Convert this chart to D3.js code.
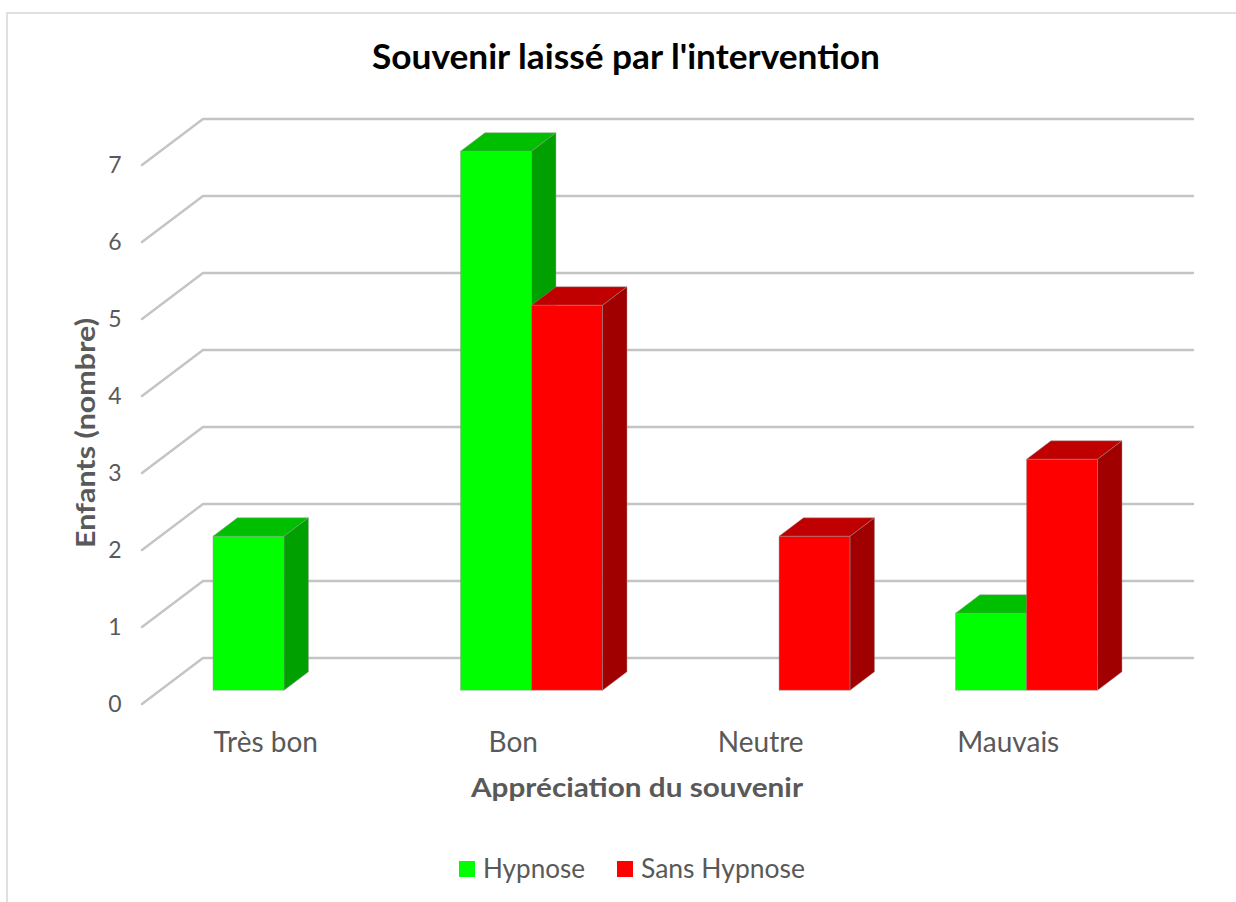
<!DOCTYPE html>
<html>
<head>
<meta charset="utf-8">
<script src="https://cdn.jsdelivr.net/npm/d3@7"></script>
<style>
  html, body { margin: 0; padding: 0; background: #fff; }
  svg { display: block; }
  text { font-family: Lato, "Open Sans", sans-serif; }
</style>
</head>
<body>
<svg id="chart" width="1236" height="902"></svg>
<script>
// ---- Data ----
const categories = ["Très bon", "Bon", "Neutre", "Mauvais"];
const seriesNames = ["Hypnose", "Sans Hypnose"];
const hypnose = [2, 7, 0, 1];
const sansHypnose = [0, 5, 2, 3];
const yTicks = [0, 1, 2, 3, 4, 5, 6, 7];
const titleText = "Souvenir laissé par l'intervention";
const xTitleText = "Appréciation du souvenir";
const yTitleText = "Enfants (nombre)";

const seriesValues = [hypnose, sansHypnose];
const colors = {
  "Hypnose": { front: "#00FF00", top: "#00BF00", side: "#00A000" },
  "Sans Hypnose": { front: "#FF0000", top: "#C00000", side: "#A00000" }
};

const svg = d3.select("#chart");

// chart border
svg.append("rect").attr("x", 7).attr("y", 13).attr("width", 1300).attr("height", 1000)
  .attr("fill", "none").attr("stroke", "#d9d9d9").attr("stroke-width", 1.6);

// ---- 3D projection ----
const DX = 61, DY = 46;                 // full depth offset
const x = d3.scaleBand().domain(categories).range([142, 1132]);
const y = d3.scaleLinear().domain([0, 7]).range([704, 165]);
const groupFrac = 0.574;
const xs = d3.scaleBand().domain(seriesNames).range([0, x.bandwidth() * groupFrac]);
const d0 = 0.3, d1 = 0.7;
const P = (px, v, d) => [px + d * DX, y(v) - d * DY];
const poly = pts => "M" + pts.map(p => p.join(",")).join("L") + "Z";

// gridlines (back wall + left wall)
const grid = svg.append("g");
yTicks.forEach(t => {
  const a = P(x.range()[0], t, 0), b = P(x.range()[0], t, 1), c = P(x.range()[1], t, 1);
  grid.append("path").attr("d", `M${a}L${b}L${c}`)
    .attr("fill", "none").attr("stroke", "#c4c4c4").attr("stroke-width", 2.4)
    .attr("stroke-linejoin", "round").attr("stroke-linecap", "round");
});

// tick labels
svg.append("g").selectAll("text").data(yTicks).join("text")
  .attr("x", 115).attr("y", d => y(d) + 8)
  .attr("text-anchor", "middle").attr("font-size", 23).attr("fill", "#595959")
  .text(d => d);

// bars
const bars = svg.append("g");
categories.forEach((cat, ci) => {
  const gx = x(cat) + x.bandwidth() * (1 - groupFrac) / 2;
  seriesNames.forEach((s, si) => {
    const v = seriesValues[si][ci];
    if (!(v > 0)) return;
    const x0 = gx + xs(s), x1 = x0 + xs.bandwidth();
    const c = colors[s];
    const st = { stroke: "rgba(150,150,150,0.55)", w: 0.8 };
    bars.append("path").attr("d", poly([P(x0, 0, d0), P(x1, 0, d0), P(x1, v, d0), P(x0, v, d0)]))
      .attr("fill", c.front).attr("stroke", st.stroke).attr("stroke-width", st.w);
    bars.append("path").attr("d", poly([P(x0, v, d0), P(x1, v, d0), P(x1, v, d1), P(x0, v, d1)]))
      .attr("fill", c.top).attr("stroke", st.stroke).attr("stroke-width", st.w);
    bars.append("path").attr("d", poly([P(x1, 0, d0), P(x1, v, d0), P(x1, v, d1), P(x1, 0, d1)]))
      .attr("fill", c.side).attr("stroke", st.stroke).attr("stroke-width", st.w);
  });
});

// category labels
svg.append("g").selectAll("text").data(categories).join("text")
  .attr("x", d => x(d) + x.bandwidth() / 2).attr("y", 752)
  .attr("text-anchor", "middle").attr("font-size", 28).attr("fill", "#595959")
  .text(d => d);

// title
svg.append("text").attr("x", 626).attr("y", 69).attr("text-anchor", "middle")
  .attr("font-size", 34).attr("font-weight", 700).attr("fill", "#000")
  .attr("textLength", 508).attr("lengthAdjust", "spacingAndGlyphs")
  .text(titleText);

// x axis title
svg.append("text").attr("x", 637).attr("y", 797).attr("text-anchor", "middle")
  .attr("font-size", 27).attr("font-weight", 700).attr("fill", "#595959")
  .attr("textLength", 332).attr("lengthAdjust", "spacingAndGlyphs")
  .text(xTitleText);

// y axis title
svg.append("text").attr("transform", "translate(95,433) rotate(-90)")
  .attr("text-anchor", "middle")
  .attr("font-size", 27).attr("font-weight", 700).attr("fill", "#595959")
  .attr("textLength", 230).attr("lengthAdjust", "spacingAndGlyphs")
  .text(yTitleText);

// legend
const legendItems = [
  { name: seriesNames[0], sx: 459, tx: 483, tw: 102 },
  { name: seriesNames[1], sx: 617, tx: 641, tw: 164 }
];
const lg = svg.append("g");
legendItems.forEach(it => {
  lg.append("rect").attr("x", it.sx).attr("y", 861).attr("width", 16).attr("height", 16)
    .attr("fill", colors[it.name].front);
  lg.append("text").attr("x", it.tx).attr("y", 878).attr("font-size", 26).attr("fill", "#595959")
    .attr("textLength", it.tw).attr("lengthAdjust", "spacingAndGlyphs")
    .text(it.name);
});
</script>
</body>
</html>
